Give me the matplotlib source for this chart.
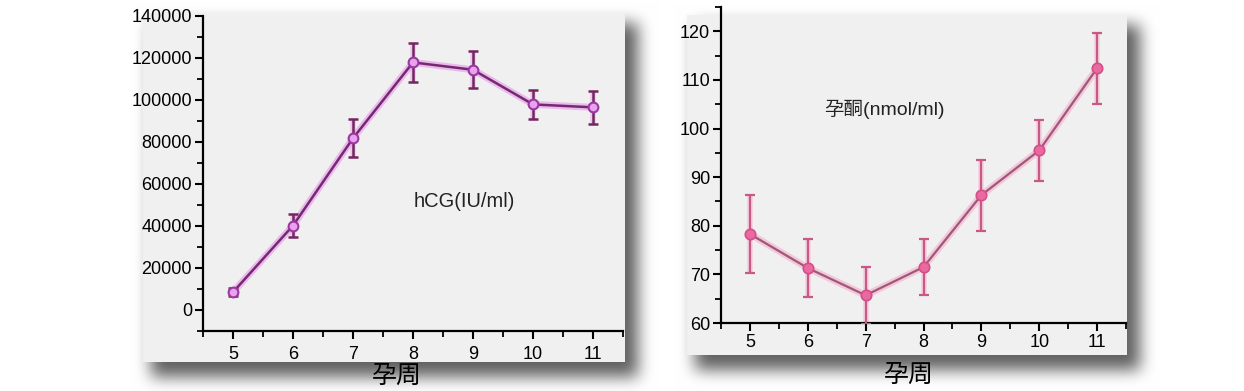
import numpy as np
import matplotlib
matplotlib.use("Agg")
import matplotlib.pyplot as plt
from matplotlib.ticker import MultipleLocator

# ---------------- data ----------------
weeks = [5, 6, 7, 8, 9, 10, 11]
hcg_mean = [8500, 40200, 81800, 117900, 114400, 97900, 96500]
hcg_err = [2000, 5300, 9000, 9400, 8700, 6900, 7700]
prog_mean = [78.3, 71.3, 65.7, 71.5, 86.3, 95.5, 112.4]
prog_err = [8.0, 5.9, 5.9, 5.7, 7.3, 6.3, 7.3]
hcg_yticks = [0, 20000, 40000, 60000, 80000, 100000, 120000, 140000]
prog_yticks = [60, 70, 80, 90, 100, 110, 120]
xlabel_text = "孕周"
hcg_label = "hCG(IU/ml)"
prog_label = "孕酮(nmol/ml)"

W, H = 1244, 391
fig = plt.figure(figsize=(W / 100, H / 100), dpi=100)
fig.patch.set_facecolor("white")

# ---------------- background panels with soft drop shadow ----------------
def box_blur(a, r):
    for _ in range(3):
        c = np.cumsum(np.pad(a, ((0, 0), (r + 1, r)), mode="edge"), axis=1)
        a = (c[:, 2 * r + 1:] - c[:, :-2 * r - 1]) / (2 * r + 1)
        c = np.cumsum(np.pad(a, ((r + 1, r), (0, 0)), mode="edge"), axis=0)
        a = (c[2 * r + 1:, :] - c[:-2 * r - 1, :]) / (2 * r + 1)
    return a

panels = [(143, 13, 625, 362), (687, 15, 1127, 355)]
shadow = np.zeros((H, W))
panel_mask = np.zeros((H, W))
for (x0, y0, x1, y1) in panels:
    shadow[y0 + 10:y1 + 15, x0 + 8:x1 + 13] = 1.0
    panel_mask[y0:y1, x0:x1] = 1.0
shadow = box_blur(shadow, 7)
img = np.ones((H, W, 3))
img *= (1 - 0.62 * shadow)[:, :, None]
img[panel_mask > 0] = np.array([240, 240, 240]) / 255.0

bg = fig.add_axes([0, 0, 1, 1], zorder=-10)
bg.imshow(img, extent=[0, W, H, 0], aspect="auto", interpolation="bilinear")
bg.set_xlim(0, W)
bg.set_ylim(H, 0)
bg.axis("off")

def px_axes(x0, y0, x1, y1):
    return [x0 / W, 1 - y1 / H, (x1 - x0) / W, (y1 - y0) / H]

tick_font = "Liberation Sans"
cjk = ["Noto Sans CJK SC", "DejaVu Sans"]
mixed = ["Liberation Sans", "Noto Sans CJK SC"]

def style_axes(ax, fs, xpad):
    ax.set_facecolor("none")
    for s in ["top", "right"]:
        ax.spines[s].set_visible(False)
    for s in ["left", "bottom"]:
        ax.spines[s].set_linewidth(1.6)
    ax.set_xlim(4.5, 11.5)
    ax.set_xticks(weeks)
    ax.xaxis.set_minor_locator(MultipleLocator(0.5))
    ax.tick_params(which="major", direction="out", length=6, width=1.5,
                   labelsize=fs)
    ax.tick_params(which="minor", direction="out", length=4, width=1.3)
    ax.tick_params(axis="x", which="major", pad=xpad)
    ax.tick_params(axis="y", which="major", pad=2)

def fix_fonts(ax):
    for lab in ax.get_xticklabels() + ax.get_yticklabels():
        lab.set_fontfamily(tick_font)

# ---------------- left: hCG ----------------
ax1 = fig.add_axes(px_axes(203, 16, 623, 331))
style_axes(ax1, 13, 5)
ax1.set_ylim(-10000, 140000)
ax1.set_yticks(hcg_yticks)
ax1.yaxis.set_minor_locator(MultipleLocator(10000))
fix_fonts(ax1)
# glow
ax1.plot(weeks, hcg_mean, color="#e884e8", lw=5, alpha=0.5, zorder=2)
ax1.errorbar(weeks, hcg_mean, yerr=hcg_err, fmt="none", ecolor="#e884e8",
             elinewidth=4, capsize=0, alpha=0.35, zorder=2)
ax1.errorbar(weeks, hcg_mean, yerr=hcg_err, fmt="none", ecolor="#74265f",
             elinewidth=1.8, capsize=3.5, capthick=1.8, zorder=3)
ax1.plot(weeks, hcg_mean, color="#742a72", lw=1.8, zorder=4,
         marker="o", markersize=7, markerfacecolor="#e8a2ee",
         markeredgecolor="#9a38a2", markeredgewidth=1.5)
ax1.text(8.85, 51500, hcg_label, fontsize=14.5, family=tick_font,
         ha="center", va="center", color="#222222")
ax1.set_xlabel(xlabel_text, fontsize=18, family=cjk, va="center")
ax1.xaxis.set_label_coords(0.462, -0.143)

# ---------------- right: progesterone ----------------
ax2 = fig.add_axes(px_axes(721, 7, 1126, 323))
style_axes(ax2, 13, 2)
ax2.set_ylim(60, 125)
ax2.set_yticks(prog_yticks)
ax2.yaxis.set_minor_locator(MultipleLocator(5))
fix_fonts(ax2)
ax2.plot(weeks, prog_mean, color="#f4a0c4", lw=5, alpha=0.5, zorder=2)
ax2.errorbar(weeks, prog_mean, yerr=prog_err, fmt="none", ecolor="#f5a9c8",
             elinewidth=4, capsize=0, alpha=0.45, zorder=2)
ax2.errorbar(weeks, prog_mean, yerr=prog_err, fmt="none", ecolor="#c85886",
             elinewidth=1.6, capsize=3.5, capthick=1.6, zorder=3)
ax2.plot(weeks, prog_mean, color="#a05878", lw=1.6, zorder=4,
         marker="o", markersize=7.5, markerfacecolor="#ea6aa0",
         markeredgecolor="#d44e88", markeredgewidth=1.2)
ax2.text(7.33, 103.9, prog_label, fontsize=14, family=mixed,
         ha="center", va="center", color="#222222")
ax2.set_xlabel(xlabel_text, fontsize=18, family=cjk, va="center")
ax2.xaxis.set_label_coords(0.465, -0.165)

fig.savefig("out.png", dpi=100)
